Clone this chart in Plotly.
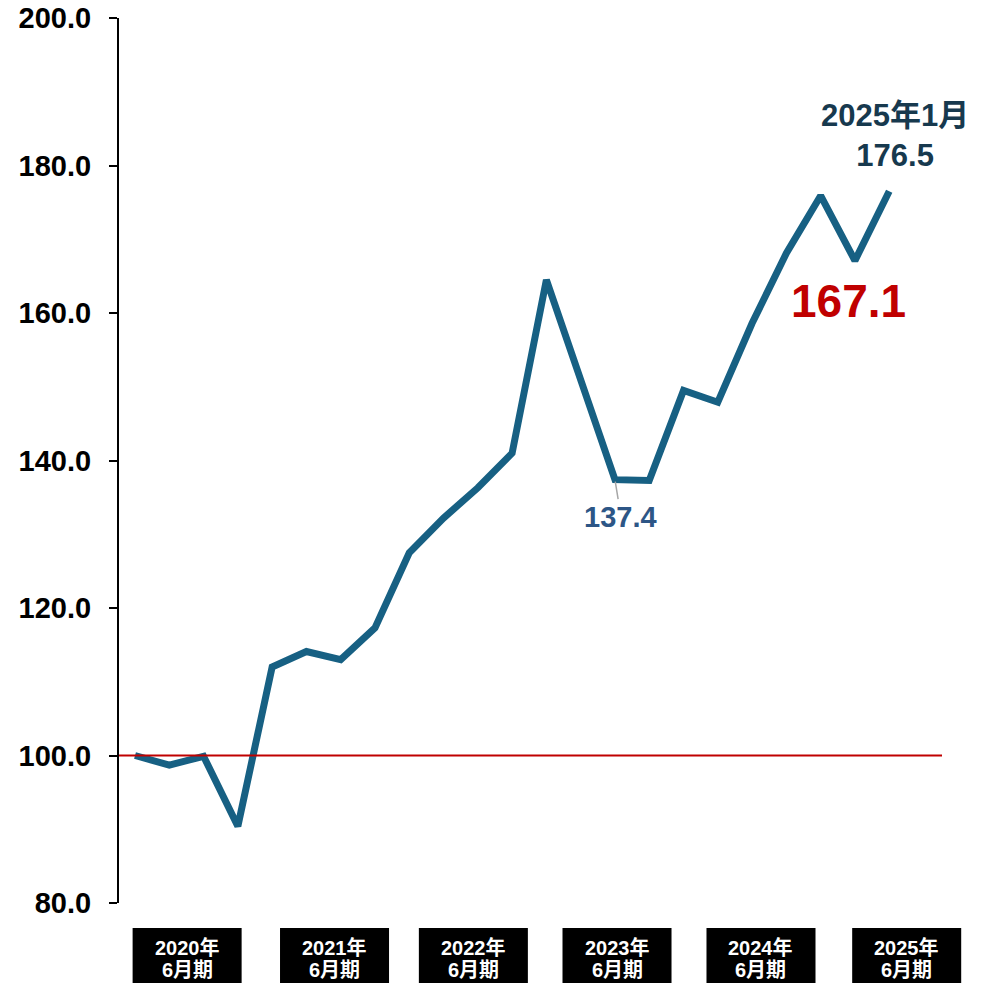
import plotly.graph_objects as go

# Quarterly index values (2020 base = 100)
idx = list(range(23))
values = [100.0, 98.7, 99.9, 90.4, 112.0, 114.1, 113.0, 117.3, 127.5, 132.2,
          136.3, 141.0, 164.5, 150.6, 137.4, 137.3, 149.5, 147.9, 158.6, 168.1,
          175.9, 167.1, 176.5]

period_line1 = ["2020年", "2021年", "2022年", "2023年", "2024年", "2025年"]
period_line2 = ["6月期", "6月期", "6月期", "6月期", "6月期", "6月期"]
period_centers = [1.52, 5.82, 9.87, 14.06, 18.26, 22.51]

y_ticks = [80, 100, 120, 140, 160, 180, 200]
y_tick_text = ["80.0", "100.0", "120.0", "140.0", "160.0", "180.0", "200.0"]
base_value = 100

FONT = "Liberation Sans, Arial, Noto Sans CJK JP, sans-serif"
LINE = "#176083"
RED = "#c00000"
XMIN, XMAX = -0.467, 23.54

fig = go.Figure()
fig.add_trace(go.Scatter(x=idx, y=values, mode="lines",
                         line=dict(color=LINE, width=7), hoverinfo="skip"))

fig.add_shape(type="line", xref="paper", yref="y", x0=0, x1=1,
              y0=base_value, y1=base_value, line=dict(color=RED, width=2),
              layer="above")

half_w = 1.59


def to_paper(v):
    return (v - XMIN) / (XMAX - XMIN)


for c, t1, t2 in zip(period_centers, period_line1, period_line2):
    fig.add_shape(type="rect", xref="paper", yref="paper",
                  x0=to_paper(c - half_w), x1=to_paper(c + half_w),
                  y0=-0.0904, y1=-0.0282, fillcolor="black", line=dict(width=0))
    fig.add_annotation(x=c, y=-0.0508, xref="x", yref="paper", text="<b>" + t1 + "</b>",
                       showarrow=False, font=dict(family=FONT, size=20, color="white"),
                       yanchor="middle")
    fig.add_annotation(x=c, y=-0.0757, xref="x", yref="paper", text="<b>" + t2 + "</b>",
                       showarrow=False, font=dict(family=FONT, size=20, color="white"),
                       yanchor="middle")

fig.add_annotation(x=22, y=values[22], xref="x", yref="y",
                   text="<b>2025年1月<br>176.5</b>", showarrow=False,
                   xshift=6, yshift=16, yanchor="bottom",
                   font=dict(family=FONT, size=31, color="#17394e"))
fig.add_annotation(x=21, y=values[21], xref="x", yref="y",
                   text="<b>167.1</b>", showarrow=False, yshift=-40, xshift=-6,
                   font=dict(family=FONT, size=46, color=RED))
fig.add_annotation(x=14, y=values[14], xref="x", yref="y",
                   text="<b>137.4</b>", showarrow=True, arrowhead=0, arrowwidth=1.5,
                   arrowcolor="#a6a6a6", ax=6, ay=37, standoff=2,
                   font=dict(family=FONT, size=29, color="#2d5686"))

fig.update_layout(
    width=992, height=983,
    margin=dict(l=119, r=50, t=18, b=80, autoexpand=False),
    paper_bgcolor="white", plot_bgcolor="white",
    showlegend=False,
    hovermode=False,
    xaxis=dict(range=[XMIN, XMAX], showticklabels=False, showgrid=False,
               zeroline=False, showline=False, ticks="", automargin=False),
    yaxis=dict(range=[80, 200], tickvals=y_ticks, ticktext=y_tick_text,
               showgrid=False, zeroline=False, showline=True, linecolor="black",
               linewidth=2, ticks="outside", ticklen=8, tickwidth=2, tickcolor="black",
               ticklabelstandoff=12, automargin=False, ticklabeloverflow="allow",
               tickfont=dict(family=FONT, size=29, color="black", weight="bold")),
)

fig.write_html("out.html", config={"displayModeBar": False},
               post_script="document.body.style.margin='0';document.body.style.overflow='hidden';")
